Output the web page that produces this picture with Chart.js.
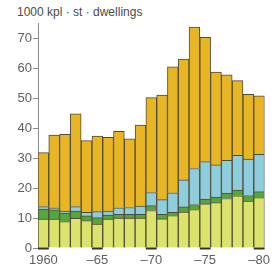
<!DOCTYPE html>
<html>
<head>
<meta charset="utf-8">
<script src="https://cdn.jsdelivr.net/npm/chart.js@4/dist/chart.umd.min.js"></script>
<style>
  html, body { margin: 0; padding: 0; background: #fff; }
  #wrap { position: relative; width: 275px; height: 271px; overflow: hidden; }
  #title { position: absolute; left: 17px; top: 5px; font: 12px "Liberation Sans", Arial, sans-serif; color: #4a4a4a; white-space: nowrap; }
  canvas { position: absolute; left: 0; top: 0; }
</style>
</head>
<body>
<div id="wrap">
  <div id="title">1000 kpl · st · dwellings</div>
  <canvas id="chart" width="275" height="271"></canvas>
</div>
<script>
(function() {
  'use strict';
  // years
  const years = [1960, 1961, 1962, 1963, 1964, 1965, 1966, 1967, 1968, 1969, 1970,
    1971, 1972, 1973, 1974, 1975, 1976, 1977, 1978, 1979, 1980];
  // labels under the x axis
  const xTickLabels = ['1960', '', '', '', '', '–65', '', '', '', '', '–70',
    '', '', '', '', '–75', '', '', '', '', '–80'];
  // stacked layers, bottom to top (1000 dwellings)
  const yellowGreen = [9.6, 9.6, 8.8, 9.9, 9.1, 8.0, 9.6, 10.0, 10.0, 10.0, 12.5,
    9.7, 10.8, 12.0, 12.8, 14.7, 15.1, 16.5, 17.4, 15.6, 16.8];
  const green = [3.4, 3.1, 2.8, 2.4, 1.6, 2.1, 1.4, 1.2, 1.2, 1.2, 1.6,
    1.5, 1.1, 1.7, 1.7, 1.6, 1.9, 1.8, 1.9, 1.9, 2.0];
  const blue = [0.8, 0.7, 0.7, 1.5, 1.2, 2.0, 1.3, 2.2, 2.3, 2.8, 4.4,
    4.9, 6.5, 9.0, 12.0, 12.5, 10.7, 10.9, 11.6, 12.1, 12.4];
  const orange = [18.0, 24.2, 25.6, 30.9, 23.9, 25.2, 24.6, 25.5, 22.9, 27.0, 31.6,
    34.9, 42.0, 40.3, 47.1, 41.4, 30.9, 28.5, 24.9, 21.6, 19.5];

  const fontFamily = '"Liberation Sans", Arial, sans-serif';
  const edge = '#4f4b3a';

  // dark marks on the baseline under the labelled years
  const baseMarks = {
    id: 'baseMarks',
    afterDatasetsDraw(chart) {
      const xs = chart.scales.x;
      const ys = chart.scales.y;
      const ctx = chart.ctx;
      const w = xs.width / years.length;
      ctx.save();
      ctx.fillStyle = '#33302a';
      xTickLabels.forEach(function(lab, i) {
        if (!lab) return;
        const cx = xs.getPixelForValue(i);
        ctx.fillRect(cx - w / 2, ys.getPixelForValue(0) - 0.5, w, 2);
      });
      ctx.restore();
    }
  };

  function layer(data, color) {
    return {
      data: data,
      backgroundColor: color,
      borderColor: edge,
      borderWidth: 1,
      categoryPercentage: 1,
      barPercentage: 1,
    };
  }

  new Chart(document.getElementById('chart').getContext('2d'), {
    type: 'bar',
    data: {
      labels: years,
      datasets: [
        layer(yellowGreen, '#dbe36c'),
        layer(green, '#55a63c'),
        layer(blue, '#8ecddb'),
        layer(orange, '#e8b624'),
      ],
    },
    options: {
      responsive: false,
      animation: false,
      layout: { padding: { top: 23, right: 0, left: 0, bottom: 0 } },
      plugins: {
        legend: { display: false },
        tooltip: { enabled: false },
      },
      scales: {
        x: {
          stacked: true,
          grid: { display: false, drawTicks: false },
          border: { display: false },
          ticks: {
            autoSkip: false,
            maxRotation: 0,
            padding: 5,
            color: '#5e5e5e',
            font: { family: fontFamily, size: 13 },
            callback: function(v, i) { return xTickLabels[i]; },
          },
          afterFit: function(scale) { scale.height = 23; },
        },
        y: {
          stacked: true,
          min: 0,
          max: 75,
          grid: { drawOnChartArea: false, tickLength: 5, color: '#8a8a8a' },
          border: { color: '#8a8a8a' },
          ticks: {
            stepSize: 10,
            padding: 1,
            color: '#5e5e5e',
            font: { family: fontFamily, size: 13 },
          },
          afterBuildTicks: function(scale) {
            scale.ticks = scale.ticks.filter(function(t) { return t.value % 10 === 0; });
          },
          afterFit: function(scale) { scale.width = 38; },
        },
      },
    },
    plugins: [baseMarks],
  });
})();
</script>
</body>
</html>
